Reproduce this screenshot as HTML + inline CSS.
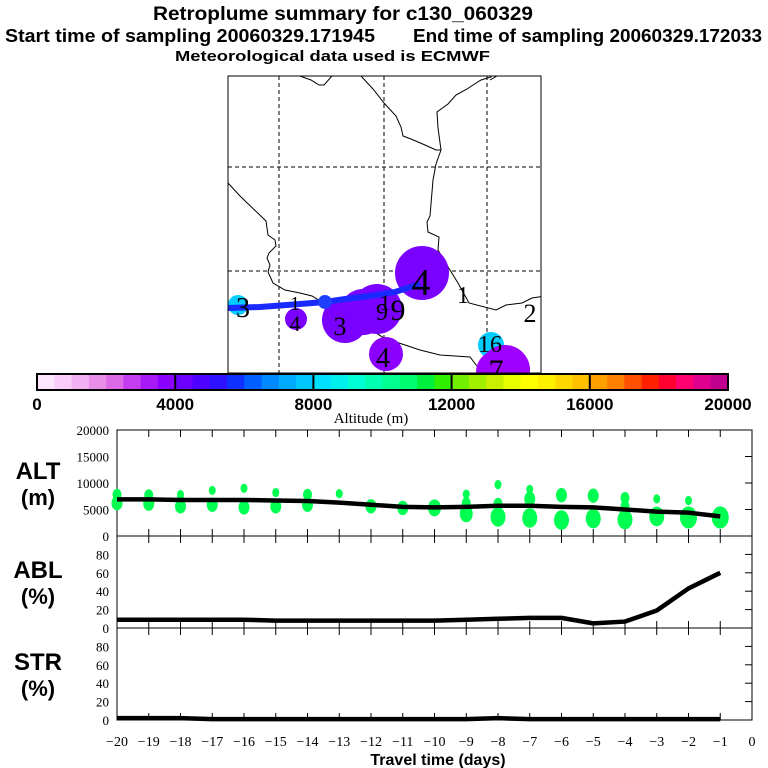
<!DOCTYPE html>
<html><head><meta charset="utf-8"><style>
html,body{margin:0;padding:0;background:#fff;}
svg{display:block;font-family:"Liberation Sans",sans-serif;}
</style></head><body>
<svg id="chart" width="768" height="768" viewBox="0 0 768 768">
<g font-weight="bold">
<text x="153" y="20" font-size="19" textLength="380" lengthAdjust="spacingAndGlyphs">Retroplume summary for c130_060329</text>
<text x="5" y="42" font-size="18" textLength="370" lengthAdjust="spacingAndGlyphs">Start time of sampling 20060329.171945</text>
<text x="413" y="42" font-size="18" textLength="349" lengthAdjust="spacingAndGlyphs">End time of sampling 20060329.172033</text>
<text x="175" y="61" font-size="15" textLength="315" lengthAdjust="spacingAndGlyphs">Meteorological data used is ECMWF</text>
</g>
<g id="map"></g>
<g id="colorbar"></g>
<g id="panels"></g>
</svg>
<script>
const NS="http://www.w3.org/2000/svg";
function mk(parent,tag,attrs,text){const e=document.createElementNS(NS,tag);for(const k in attrs)e.setAttribute(k,attrs[k]);if(text!==undefined)e.textContent=text;parent.appendChild(e);return e;}

// ---------- data ----------
const days=[-20,-19,-18,-17,-16,-15,-14,-13,-12,-11,-10,-9,-8,-7,-6,-5,-4,-3,-2,-1];
const altMean=[6900,6900,6800,6800,6800,6700,6600,6300,5900,5500,5400,5500,5700,5700,5500,5400,5000,4600,4400,3700];
const ablPct=[9,9,9,9,9,8,8,8,8,8,8,9,10,11,11,5,7,19,43,60];
const strPct=[2,2,2,1,1,1,1,1,1,1,1,1,2,1,1,1,1,1,1,1];
const clusterDay=[-20,-20,-19,-19,-18,-18,-18,-17,-17,-16,-16,-15,-15,-14,-14,-13,-12,-11,-10,-9,-9,-9,-8,-8,-8,-7,-7,-7,-6,-6,-5,-5,-4,-4,-4,-3,-3,-2,-2,-1];
const clusterAlt=[7800,6200,7700,6100,7800,6600,5600,8600,5900,9000,5400,8200,5600,7800,5900,8000,5600,5300,5300,7900,6200,4200,9700,6100,3600,8800,7000,3400,7700,3000,7600,3300,7200,5600,3100,7000,3700,6700,3500,3500];
const clusterSize=[3,4,3,4,2,3,4,2,4,2,4,2,4,3,4,2,4,4,5,2,3,5,2,3,6,2,4,6,4,6,4,6,3,3,6,2,6,2,7,7];
const cbTicks=[0,4000,8000,12000,16000,20000];
const cbColors=["#fde6fd","#f9ccf9","#f2b0f2","#e88ee8","#dc6ae8","#c43ef0","#a81af5","#8c00ff","#6c00ff","#4c00ff","#2c10ff","#1030ff","#0060ff","#0088ff","#00aaff","#00c8ff","#00e0ff","#00f0f0","#00ffd4","#00ffb0","#00ff90","#00ff70","#00f040","#30f000","#70f000","#a0f000","#c8f000","#e8ff00","#ffff00","#fff000","#ffd800","#ffc000","#ffa000","#ff8000","#ff5000","#ff2000","#ff0030","#ff0070","#e00090","#c00090","#a00080","#800070"].slice(0,40);
const plumeX=[238,296,345,363,377,386,422,491,505,498];
const plumeY=[305,319,320,312,309,354,273,345,370,372];
const plumeR=[10,11,23,23,25,17,27,13,25,22];
const plumeColor=["#00ccff","#7a00ff","#7a00ff","#7a00ff","#7a00ff","#8c00ff","#7a00ff","#00ccff","#a000ff","#a000ff"];
const trackX=[228,260,300,325,345,370,395,420];
const trackY=[308,307,304,302,299,296,292,284];
const labelText=["3","4","3","9","1","9","4","1","1","2","16","4","7"];
const labelX=[243,295,340,398,385,382,421,463,295,530,490,383,496];
const labelY=[317,331,335,320,310,320,295,303,310,322,352,367,380];
const labelSize=[28,22,26,30,22,24,38,24,20,26,24,28,30];

// ---------- map ----------
const map=document.getElementById('map');
const mx0=228,mx1=541,my0=76,my1=373;
const clip=mk(map,'clipPath',{id:'mclip'});mk(clip,'rect',{x:mx0,y:my0,width:mx1-mx0,height:my1-my0});
const mg=mk(map,'g',{'clip-path':'url(#mclip)'});
[279,384,487].forEach(x=>{const l=mk(mg,'line',{x1:x,y1:my0,x2:x,y2:my1,stroke:'#000','stroke-width':1,'stroke-dasharray':'4,3'});});
[167,271].forEach(y=>{const l=mk(mg,'line',{x1:mx0,y1:y,x2:mx1,y2:y,stroke:'#000','stroke-width':1,'stroke-dasharray':'4,3'});});
const coasts=["M291,70 L297,75 L311,80 L319,85 L324,85 L332,76 L340,70 M352,70 L361,76 L373,89 L384,103 L396,116 L401,127 L403,136 L411,139 L425,145 L436,150 L441,150 L436,164 L433,180 L431,204 L430,216 L427,222 L428,232 L439,237 L438,250 L445,262 L458,283 L469,303 L496,310 L506,305 L522,303 L532,298 L545,296",
"M487,70 L491,77 L481,80 L473,85 L467,89 L456,95 L448,104 L437,112 L438,128 L441,150",
"M228,183 L240,196 L266,221 L268,235 L275,240 L276,246 L269,253 L267,258 L270,265 L268,272 L273,283 L285,290 L300,293 L312,296 L330,307 L345,313 L360,323 L384,338 L420,350 L440,355 L470,357 L480,370",
"M490,80 L497,76 L505,74 L515,72 L541,72"];
coasts.forEach(d=>{const p=mk(mg,'path',{d:d,fill:'none',stroke:'#000','stroke-width':1});});
plumeX.forEach((x,i)=>{const c=mk(mg,'circle',{cx:x,cy:plumeY[i],r:plumeR[i],fill:plumeColor[i]});});
const tp=mk(mg,'polyline',{points:trackX.map((x,i)=>x+','+trackY[i]).join(' '),fill:'none',stroke:'#1a2aff','stroke-width':6});

mk(mg,'circle',{cx:325,cy:302,r:7,fill:'#2040ff'});
labelText.forEach((t,i)=>{const e=mk(mg,'text',{x:labelX[i],y:labelY[i],'font-size':labelSize[i],'font-family':'"Liberation Serif",serif','text-anchor':'middle',fill:'#000'},t);});
const mb=mk(map,'rect',{x:mx0,y:my0,width:mx1-mx0,height:my1-my0,fill:'none',stroke:'#000','stroke-width':1});


// ---------- colorbar ----------
const cb=document.getElementById('colorbar');
const cbx0=37,cbx1=728,cby=374,cbh=16;
const cbx=v=>cbx0+(v-cbTicks[0])/(cbTicks[cbTicks.length-1]-cbTicks[0])*(cbx1-cbx0);
const seg=(cbx1-cbx0)/cbColors.length;
cbColors.forEach((c,i)=>{const r=mk(cb,'rect',{x:cbx0+i*seg,y:cby,width:seg+0.5,height:cbh,fill:c});});
mk(cb,'rect',{x:cbx0,y:cby,width:cbx1-cbx0,height:cbh,fill:'none',stroke:'#000','stroke-width':2});
cbTicks.forEach(v=>{mk(cb,'line',{x1:cbx(v),y1:cby,x2:cbx(v),y2:cby+cbh,stroke:'#000','stroke-width':2});
const t=mk(cb,'text',{x:cbx(v),y:cby+36,'font-size':17,'font-weight':'bold','text-anchor':'middle'},String(v));});
const at=mk(cb,'text',{x:371,y:423,'font-size':15,'font-family':'"Liberation Serif",serif','text-anchor':'middle'},'Altitude (m)');


// ---------- panels ----------
const pg=document.getElementById('panels');
const px0=117,px1=752;
const xs=d=>px0+(d+20)/20*(px1-px0);
const panels=[{name:'alt',top:430,bot:536,max:20000,ticks:[0,5000,10000,15000,20000],lab:['ALT','(m)']},
{name:'abl',top:536,bot:628,max:100,ticks:[0,20,40,60,80],lab:['ABL','(%)']},
{name:'str',top:628,bot:720,max:100,ticks:[0,20,40,60,80],lab:['STR','(%)']}];
panels.forEach(P=>{
 const ys=v=>P.bot-v/P.max*(P.bot-P.top);
 P.ys=ys;
 const fr=mk(pg,'rect',{x:px0,y:P.top,width:px1-px0,height:P.bot-P.top,fill:'none',stroke:'#000','stroke-width':1});
 
 for(let d=-19;d<0;d++){mk(pg,'line',{x1:xs(d),y1:P.top,x2:xs(d),y2:P.top+7,stroke:'#000'});mk(pg,'line',{x1:xs(d),y1:P.bot,x2:xs(d),y2:P.bot-7,stroke:'#000'});}
 P.ticks.forEach(v=>{mk(pg,'line',{x1:px1,y1:ys(v),x2:px1-7,y2:ys(v),stroke:'#000'});
  const t=mk(pg,'text',{x:px0-8,y:ys(v)+5,'font-size':13,'font-family':'"Liberation Serif",serif','text-anchor':'end'},String(v));
  });
 const my=(P.top+P.bot)/2;
 const l1=mk(pg,'text',{x:38,y:my-4,'font-size':24,'font-weight':'bold','text-anchor':'middle'},P.lab[0]);
 
 const l2=mk(pg,'text',{x:38,y:my+22,'font-size':22,'font-weight':'bold','text-anchor':'middle'},P.lab[1]);
 
});
const A=panels[0],B=panels[1],S=panels[2];
clusterDay.forEach((d,i)=>{const e=mk(pg,'ellipse',{cx:xs(d),cy:A.ys(clusterAlt[i]),rx:1.5+clusterSize[i]*1.0,ry:2+clusterSize[i]*1.3,fill:'#00ff50'});
 });
function line(P,vals,name){const p=mk(pg,'polyline',{points:days.map((d,i)=>xs(d)+','+P.ys(vals[i])).join(' '),fill:'none',stroke:'#000','stroke-width':4.5,'stroke-linejoin':'round'});
 }
line(A,altMean,'altitude-mean-line');line(B,ablPct,'abl-fraction-line');line(S,strPct,'str-fraction-line');
for(let d=-20;d<=0;d++){const t=mk(pg,'text',{x:xs(d),y:746,'font-size':14,'font-family':'"Liberation Serif",serif','text-anchor':'middle'},(d<0?'\u2212'+(-d):'0'));
 }
const xt=mk(pg,'text',{x:438,y:765,'font-size':16,'font-weight':'bold','text-anchor':'middle'},'Travel time (days)');

</script>
</body></html>
